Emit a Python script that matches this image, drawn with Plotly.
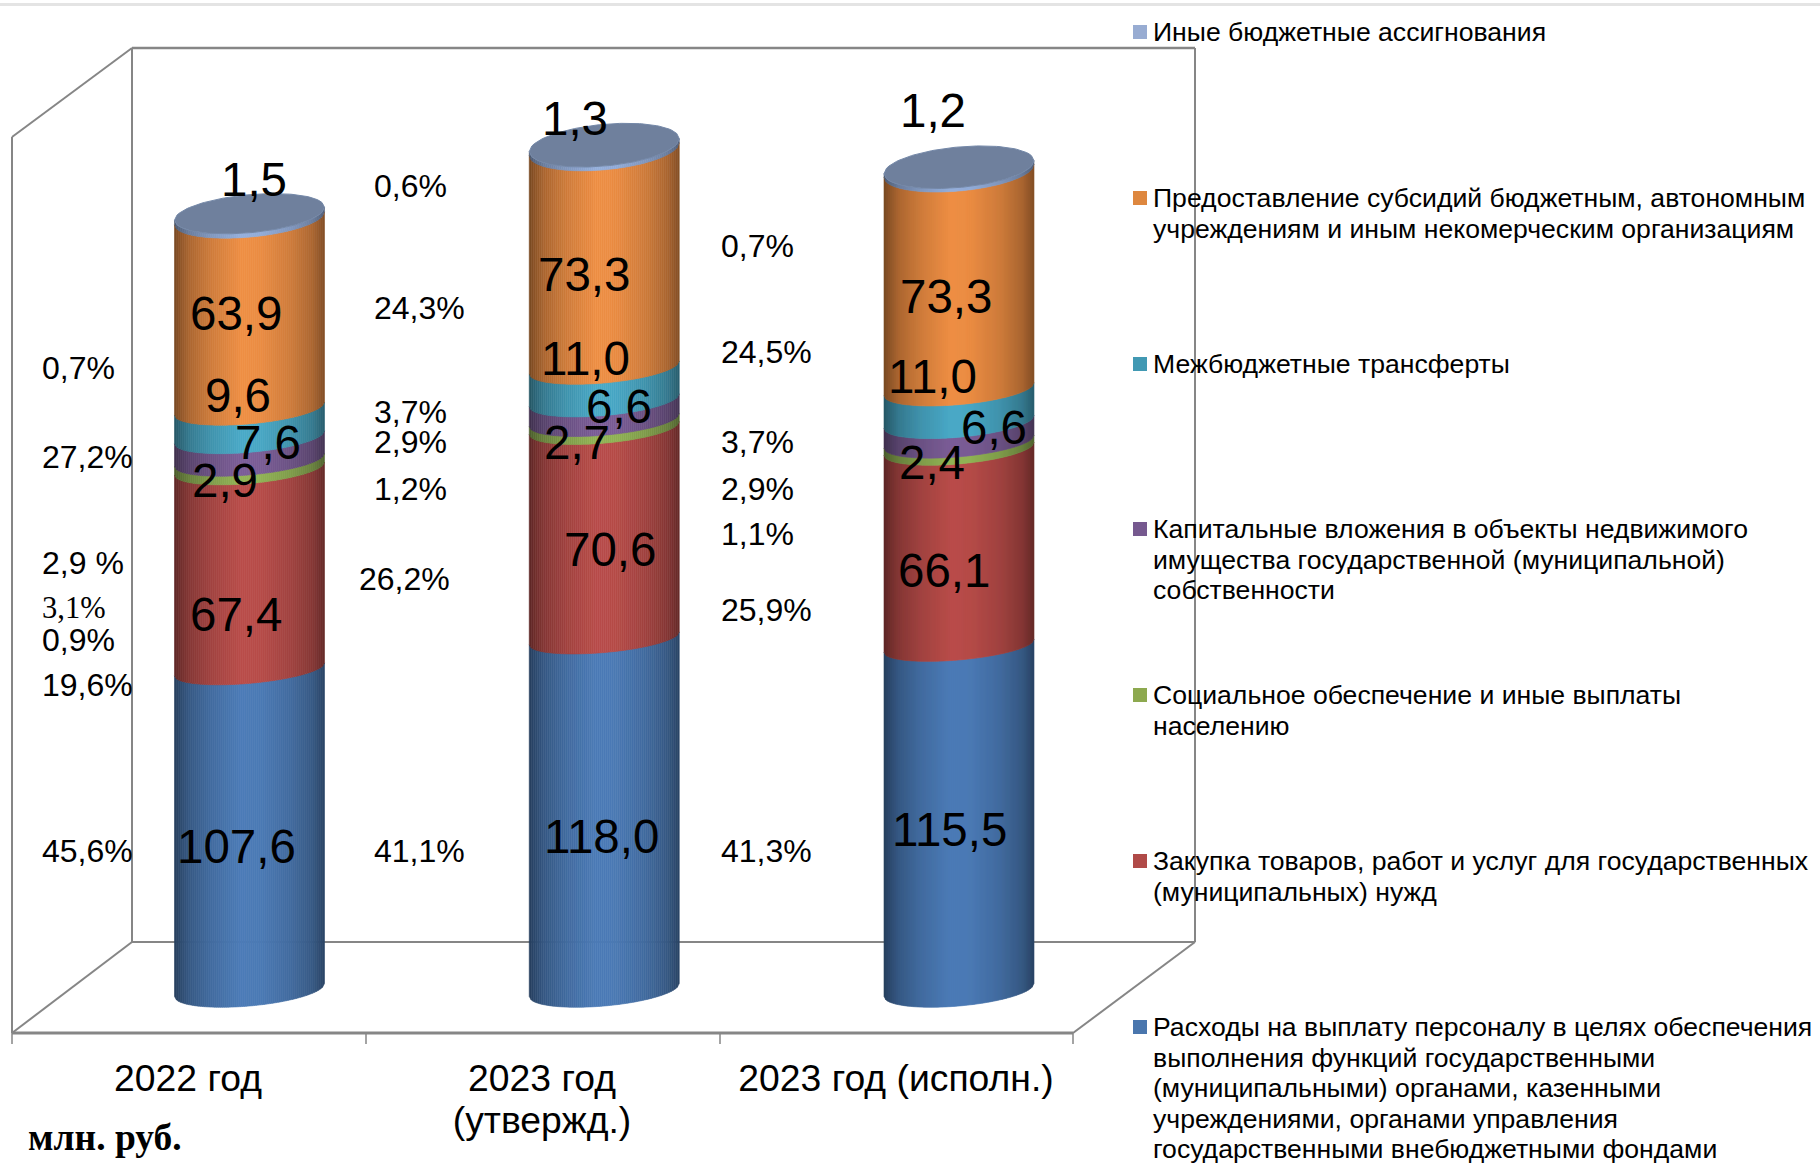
import numpy as np
import plotly.graph_objects as go

W, H = 1820, 1164

# ---------- data ----------
categories = ["2022 год", "2023 год<br>(утвержд.)", "2023 год (исполн.)"]
personnel = [107.6, 118.0, 115.5]
purchases = [67.4, 70.6, 66.1]
social = [2.9, 2.7, 2.4]
capital = [7.6, 6.6, 6.6]
transfers = [9.6, 11.0, 11.0]
subsidies = [63.9, 73.3, 73.3]
other = [1.5, 1.3, 1.2]

names = [
    "Расходы на выплату персоналу в целях обеспечения<br>выполнения функций государственными<br>(муниципальными) органами, казенными<br>учреждениями, органами управления<br>государственными внебюджетными фондами",
    "Закупка товаров, работ и услуг для государственных<br>(муниципальных) нужд",
    "Социальное обеспечение и иные выплаты<br>населению",
    "Капитальные вложения в объекты недвижимого<br>имущества государственной (муниципальной)<br>собственности",
    "Межбюджетные трансферты",
    "Предоставление субсидий бюджетным, автономным<br>учреждениям и иным некомерческим организациям",
    "Иные бюджетные ассигнования",
]
series = [personnel, purchases, social, capital, transfers, subsidies, other]
colors = ["#4C7CB8", "#BA4D4A", "#93B556", "#7C5E98", "#4AAAC8", "#EF8F44", "#95AFDC"]
swatches = ["#4A76AD", "#B04A48", "#8DA94F", "#76598F", "#4199B3", "#DE873F", "#98ACD2"]

pct_a = ["45,6%", "19,6%", "0,9%", "3,1%", "2,9 %", "27,2%", "0,7%"]
pct_b = ["41,1%", "26,2%", "1,2%", "2,9%", "3,7%", "24,3%", "0,6%"]
pct_c = ["41,3%", "25,9%", "1,1%", "2,9%", "3,7%", "24,5%", "0,7%"]

# ---------- layout constants (pixels) ----------
PX_PER_UNIT = 2.98
BASE_Y = 990
CX0, DX = 249.5, 354.75
HALF_W = 75.0
TILT = 6.5

val_pos = [
    [(236, 846), (236, 614), (225, 480), (268, 442), (238, 395), (236, 314), (254, 179)],
    [(601, 836), (610, 549), (577, 442), (619, 406), (585, 358), (584, 274), (575, 119)],
    [(949, 829), (944, 570), (932, 463), (994, 427), (933, 377), (946, 296), (933, 110)],
]
pct_x = [[40] * 7, [372, 357, 372, 372, 372, 372, 372], [719] * 7]
pct_y = [
    [851, 685, 640, 608, 563, 457, 368],
    [851, 579, 489, 442, 412, 308, 186],
    [851, 610, 534, 489, 442, 352, 246],
]
legend_y = [1088, 876, 710, 559, 364, 213, 32]  # vertical centres of entries
legend_first = [1027, 861, 695, 529, 364, 198, 32]  # first line of each entry
label_x_px = [188, 542, 896]


def fx(px):
    return px / W


def fy(py):
    return 1 - py / H


def depth(v):
    return np.interp(v, [0, 107, 210, 260, 285], [16, 14, 15.5, 19, 21])


def arc(center, u, v, sign):
    """Point on the front (sign -1) or back (sign +1) arc of the cylinder's disc at value v."""
    x = center + u * HALF_W / DX
    y = v + (TILT * u + sign * depth(v) * np.sqrt(np.clip(1 - u * u, 0, 1))) / PX_PER_UNIT
    return x, y


def shade(hex_color, f):
    r, g, b = (int(hex_color[i:i + 2], 16) for i in (1, 3, 5))
    return f"rgb({int(r * f)},{int(g * f)},{int(b * f)})"


NSTRIP = 75
edges = np.linspace(0, 1, NSTRIP + 1)
profile_x = [0, 0.03, 0.1, 0.25, 0.45, 0.58, 0.78, 0.92, 1]
profile_f = [0.50, 0.58, 0.72, 0.87, 1.0, 0.98, 0.86, 0.72, 0.55]

traces = []
for s, vals in enumerate(series):
    for k in range(NSTRIP):
        u0, u1 = 2 * edges[k] - 1, 2 * edges[k + 1] - 1
        f = float(np.interp((edges[k] + edges[k + 1]) / 2, profile_x, profile_f))
        xs, ys = [], []
        for c in range(len(vals)):
            lo = sum(series[j][c] for j in range(s))
            hi = lo + vals[c]
            x0, y0 = arc(c, u0, lo, -1)
            x1, y1 = arc(c, u1, lo, -1)
            x2, y2 = arc(c, u1, hi, -1)
            x3, y3 = arc(c, u0, hi, -1)
            xs += [x0, x1, x2, x3, x0, None]
            ys += [y0, y1, y2, y3, y0, None]
        col = shade(colors[s], f)
        traces.append(go.Scatter(x=xs, y=ys, mode="lines", fill="toself", fillcolor=col,
                                 line=dict(color=col, width=0.6), hoverinfo="skip",
                                 showlegend=False))

# top faces
tx, ty = [], []
us = np.linspace(-1, 1, 61)
for c in range(3):
    total = sum(sr[c] for sr in series)
    px, py = arc(c, us, total, 1)
    qx, qy = arc(c, us[::-1], total, -1)
    tx += list(px) + list(qx) + [None]
    ty += list(py) + list(qy) + [None]
traces.append(go.Scatter(x=tx, y=ty, mode="lines", fill="toself", fillcolor="#6F809D",
                         line=dict(color="#7488A8", width=1), hoverinfo="skip", showlegend=False))

fig = go.Figure(traces)

# ---------- frame ----------
GRAY = "#868686"
segs = [
    ((132, 48), (1195, 48), 2.5), ((132, 48), (132, 942), 2), ((1195, 48), (1195, 942), 2),
    ((132, 942), (1195, 942), 2), ((12, 137), (132, 48), 2), ((12, 137), (12, 1033), 2),
    ((12, 1033), (132, 942), 2), ((12, 1033), (1073, 1033), 3), ((1073, 1033), (1195, 942), 2),
]
for tick in [12, 366, 720, 1073]:
    segs.append(((tick, 1033), (tick, 1044), 1.5))
shapes = [dict(type="line", xref="paper", yref="paper", x0=fx(a[0]), y0=fy(a[1]), x1=fx(b[0]), y1=fy(b[1]),
               line=dict(color=GRAY, width=w), layer="below") for a, b, w in segs]
shapes.append(dict(type="rect", xref="paper", yref="paper", x0=0, x1=1, y0=fy(3), y1=fy(6),
                   fillcolor="#E4E4E4", line=dict(width=0), layer="below"))


def sized(text, size):
    """Glyph size larger than the base font, so lines keep the tight base line spacing."""
    return "<br>".join(f'<span style="font-size:{size}px">{part}</span>' for part in text.split("<br>"))


annos = []
for i, nm in enumerate(names):
    yc = legend_first[i]
    shapes.append(dict(type="rect", xref="paper", yref="paper", x0=fx(1133), x1=fx(1147),
                       y0=fy(yc - 7), y1=fy(yc + 7), fillcolor=swatches[i], line=dict(width=0), layer="above"))
    annos.append(dict(x=fx(1151), y=fy(legend_y[i]), xref="paper", yref="paper", text=sized(nm, 26.6),
                      showarrow=False, xanchor="left", yanchor="middle", align="left",
                      font=dict(family="Liberation Sans", size=23.5, color="#000000")))

# value labels
for c in range(3):
    for s, vals in enumerate(series):
        px, py = val_pos[c][s]
        annos.append(dict(x=fx(px), y=fy(py), xref="paper", yref="paper",
                          text=f"{vals[c]:.1f}".replace(".", ","), showarrow=False,
                          xanchor="center", yanchor="middle",
                          font=dict(family="Liberation Sans", size=47.5, color="#000000")))

# percent labels
for col, pcts in enumerate([pct_a, pct_b, pct_c]):
    for s, t in enumerate(pcts):
        serif = t == "3,1%"
        annos.append(dict(x=fx(pct_x[col][s]), y=fy(pct_y[col][s]), xref="paper", yref="paper",
                          text=t, showarrow=False, xanchor="left", yanchor="middle",
                          font=dict(family="Liberation Serif" if serif else "Liberation Sans",
                                    size=30.5 if serif else 32, color="#000000")))

annos.append(dict(x=fx(26), y=fy(1137), xref="paper", yref="paper", text="<b>млн. руб.</b>", showarrow=False,
                  xanchor="left", yanchor="middle",
                  font=dict(family="Liberation Serif", size=37.5, color="#000000")))

fig.update_layout(
    width=W, height=H, margin=dict(l=0, r=0, t=0, b=0), paper_bgcolor="white", plot_bgcolor="rgba(0,0,0,0)",
    showlegend=False, shapes=shapes, annotations=annos,
    xaxis=dict(range=[(0 - CX0) / DX, (W - CX0) / DX], anchor="free", position=1 - 1033 / H,
               tickmode="array", tickvals=[(p - CX0) / DX for p in label_x_px],
               ticktext=[sized(c, 37.3) for c in categories],
               tickfont=dict(family="Liberation Sans", size=32, color="#000000"),
               ticks="outside", ticklen=19, tickcolor="rgba(0,0,0,0)", showgrid=False, zeroline=False,
               showline=False, fixedrange=True),
    yaxis=dict(range=[(BASE_Y - H) / PX_PER_UNIT, BASE_Y / PX_PER_UNIT], visible=False, fixedrange=True),
)

fig.write_html("out.html", config=dict(displayModeBar=False), post_script="document.body.style.margin='0';")
